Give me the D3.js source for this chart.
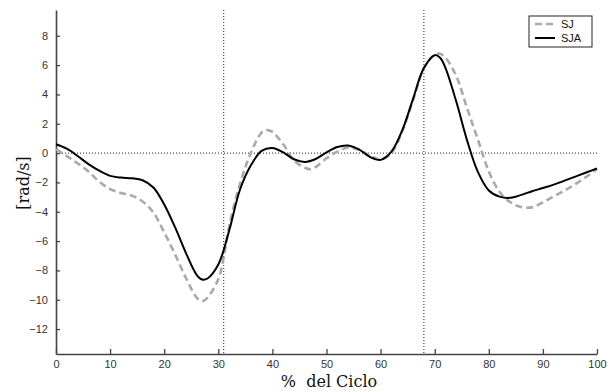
<!DOCTYPE html>
<html>
<head>
<meta charset="utf-8">
<script src="https://cdn.jsdelivr.net/npm/d3@7"></script>
<style>
  body { margin: 0; background: #fff; }
  svg { display: block; }
</style>
</head>
<body>
<div id="chart"></div>
<script>
// SJ (dashed grey) series
const sjX = [0, 2, 4, 6, 8, 10, 12, 14, 16, 18, 20, 22, 24, 26, 27, 28, 30, 31, 32, 34, 36, 38, 39, 40, 42, 44, 46, 47, 48, 50, 52, 54, 56, 58, 60, 62, 64, 66, 68, 70, 71, 72, 74, 76, 78, 80, 82, 84, 86, 88, 90, 92, 94, 96, 98, 100];
const sjY = [0.25, -0.2, -0.7, -1.25, -1.95, -2.45, -2.72, -2.9, -3.3, -4.05, -5.4, -6.9, -8.5, -9.85, -10.1, -9.85, -8.6, -7.1, -5.0, -2.1, 0.0, 1.4, 1.57, 1.45, 0.6, -0.5, -1.0, -1.1, -0.95, -0.35, 0.1, 0.38, 0.22, -0.15, -0.42, 0.0, 1.5, 3.6, 5.8, 6.7, 6.78, 6.5, 5.25, 3.05, 0.9, -1.25, -2.65, -3.35, -3.68, -3.7, -3.35, -2.95, -2.55, -2.12, -1.62, -1.1];

// SJA (solid black) series
const sjaX = [0, 2, 4, 6, 8, 10, 12, 14, 16, 18, 20, 22, 24, 26, 27, 28, 30, 32, 34, 36, 38, 40, 42, 44, 46, 48, 50, 52, 54, 56, 58, 60, 62, 64, 66, 68, 70, 71, 72, 74, 76, 78, 80, 82, 84, 86, 88, 90, 92, 94, 96, 98, 100];
const sjaY = [0.6, 0.3, -0.2, -0.75, -1.2, -1.55, -1.67, -1.72, -1.85, -2.35, -3.5, -5.05, -6.8, -8.3, -8.62, -8.55, -7.6, -5.3, -2.5, -0.85, 0.15, 0.35, 0.05, -0.42, -0.6, -0.4, 0.05, 0.42, 0.52, 0.25, -0.25, -0.46, 0.1, 1.55, 3.7, 5.8, 6.68, 6.5, 5.8, 3.5, 0.85, -1.3, -2.55, -2.97, -3.05, -2.85, -2.6, -2.38, -2.15, -1.88, -1.6, -1.32, -1.05];

const xTicks = [0, 10, 20, 30, 40, 50, 60, 70, 80, 90, 100];
const yTicks = [-12, -10, -8, -6, -4, -2, 0, 2, 4, 6, 8];
const vLines = [31, 68];
const legendNames = ["SJ", "SJA"];

const width = 612, height = 392;
const margin = {top: 10, right: 15, bottom: 38, left: 56};

const svg = d3.select("#chart").append("svg")
    .attr("width", width)
    .attr("height", height);

const x = d3.scaleLinear().domain([0, 100]).range([margin.left, width - margin.right]);
const y = d3.scaleLinear().domain([-13.7, 9.76]).range([height - margin.bottom, margin.top]);

// dotted reference lines
svg.append("line")
    .attr("x1", x(0)).attr("x2", x(100))
    .attr("y1", y(0)).attr("y2", y(0))
    .attr("stroke", "#222").attr("stroke-width", 1).attr("stroke-dasharray", "1,2");

svg.selectAll(".vline")
    .data(vLines)
    .enter().append("line")
    .attr("class", "vline")
    .attr("x1", d => x(d)).attr("x2", d => x(d))
    .attr("y1", y.range()[1]).attr("y2", y.range()[0])
    .attr("stroke", "#222").attr("stroke-width", 1).attr("stroke-dasharray", "1,2");

// axes
const xAxis = svg.append("g")
    .attr("transform", `translate(0,${y.range()[0]})`)
    .call(d3.axisBottom(x).tickValues(xTicks).tickSizeInner(-5).tickSizeOuter(0).tickPadding(6));

const yAxis = svg.append("g")
    .attr("transform", `translate(${x(0)},0)`)
    .call(d3.axisLeft(y).tickValues(yTicks).tickSizeInner(-4).tickSizeOuter(0).tickPadding(8));

[xAxis, yAxis].forEach(g => {
    g.select(".domain").attr("stroke", "#444").attr("stroke-width", 1.6);
    g.selectAll(".tick line").attr("stroke", "#444").attr("stroke-width", 1.3);
    g.selectAll(".tick text")
        .attr("fill", "#333")
        .style("font-family", "'Liberation Sans', Arial, sans-serif")
        .style("font-size", "11px");
});

// lines
const line = d3.line()
    .x(d => x(d[0]))
    .y(d => y(d[1]))
    .curve(d3.curveCatmullRom.alpha(0.5));

svg.append("path")
    .datum(d3.zip(sjX, sjY))
    .attr("fill", "none")
    .attr("stroke", "#aaaaaa")
    .attr("stroke-width", 2.6)
    .attr("stroke-dasharray", "7,4")
    .attr("d", line);

svg.append("path")
    .datum(d3.zip(sjaX, sjaY))
    .attr("fill", "none")
    .attr("stroke", "#000")
    .attr("stroke-width", 2)
    .attr("d", line);

// legend
const legend = svg.append("g").attr("transform", "translate(529,16)");
legend.append("rect")
    .attr("width", 63).attr("height", 31)
    .attr("fill", "#fff").attr("stroke", "#222").attr("stroke-width", 1);

const legendStyles = [
    {stroke: "#aaaaaa", width: 2.6, dash: "7,4"},
    {stroke: "#000", width: 2, dash: null}
];
legendNames.forEach((name, i) => {
    const ly = 8 + i * 14;
    legend.append("line")
        .attr("x1", 6).attr("x2", 26)
        .attr("y1", ly).attr("y2", ly)
        .attr("stroke", legendStyles[i].stroke)
        .attr("stroke-width", legendStyles[i].width)
        .attr("stroke-dasharray", legendStyles[i].dash);
    legend.append("text")
        .attr("x", 32).attr("y", ly + 4)
        .style("font-family", "'Liberation Sans', Arial, sans-serif")
        .style("font-size", "11px")
        .attr("fill", "#111")
        .text(name);
});

// axis titles
svg.append("text")
    .attr("x", 329).attr("y", 387)
    .attr("text-anchor", "middle")
    .style("font-family", "'DejaVu Serif', serif")
    .style("font-size", "16px")
    .style("white-space", "pre")
    .attr("fill", "#111")
    .text("%  del Ciclo");

svg.append("text")
    .attr("transform", "translate(29,183) rotate(-90)")
    .attr("text-anchor", "middle")
    .style("font-family", "'DejaVu Serif', serif")
    .style("font-size", "16px")
    .attr("fill", "#111")
    .text("[rad/s]");
</script>
</body>
</html>
